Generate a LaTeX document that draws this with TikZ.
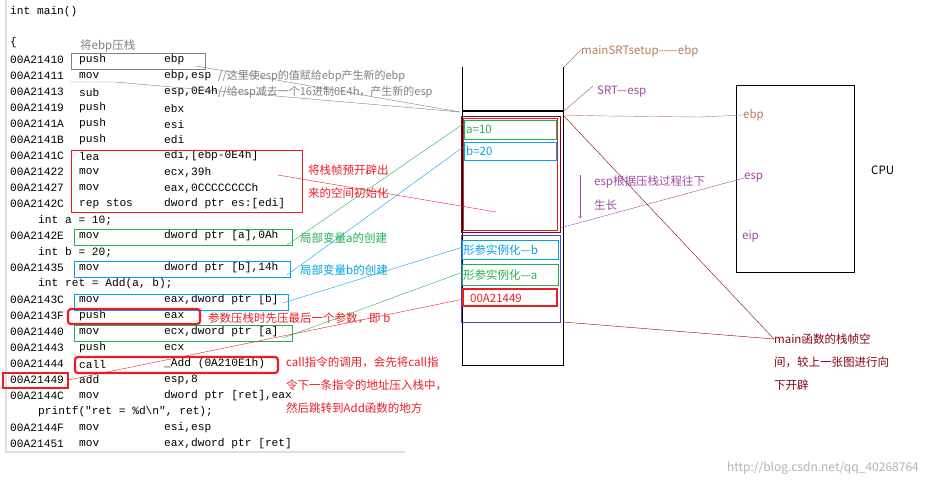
\documentclass[tikz,border=0pt]{standalone}
\usepackage{fontspec}
\setmainfont{Noto Sans CJK SC}
\newfontfamily\codefont{Liberation Mono}
\definecolor{cred}{RGB}{237,28,36}
\definecolor{cgreen}{RGB}{34,177,76}
\definecolor{cblue}{RGB}{0,162,232}
\definecolor{cind}{RGB}{63,72,204}
\definecolor{cbrown}{RGB}{185,122,87}
\definecolor{cpurp}{RGB}{163,73,164}
\definecolor{cdred}{RGB}{136,0,21}
\definecolor{cgray}{RGB}{127,127,127}
\begin{document}
\begin{tikzpicture}[x=1pt,y=-1pt,
 code/.style={anchor=west,inner sep=0pt,font=\codefont\fontsize{11.2}{12}\selectfont},
 lab/.style={anchor=west,inner sep=0pt,font=\fontsize{11.5}{13}\selectfont},
 rb/.style={draw=cred,line width=2.2pt,rounded corners=3pt}]
\useasboundingbox (0,0) rectangle (931,488);
\draw[gray!25,line width=2pt] (6,0) -- (6,452) -- (405,452);
% code
\node[code] (l0) at (10,12) {int main()};
\node[code] at (10,43) {\{};
\foreach \y/\a/\m/\o [count=\i] in {
 60/00A21410/push/ebp, 76/00A21411/mov/{ebp,esp}, 92/00A21413/sub/{esp,0E4h},
 108/00A21419/push/ebx, 124/00A2141A/push/esi, 140/00A2141B/push/edi,
 156/00A2141C/lea/{edi,[ebp-0E4h]}, 172/00A21422/mov/{ecx,39h}, 188/00A21427/mov/{eax,0CCCCCCCCh},
 204/00A2142C/rep stos/{dword ptr es:[edi]}, 236/00A2142E/mov/{dword ptr [a],0Ah},
 268/00A21435/mov/{dword ptr [b],14h}, 300/00A2143C/mov/{eax,dword ptr [b]},
 316/00A2143F/push/eax, 332/00A21440/mov/{ecx,dword ptr [a]}, 348/00A21443/push/ecx,
 364/00A21444/call/{\_Add (0A210E1h)}, 380/00A21449/add/{esp,8},
 396/00A2144C/mov/{dword ptr [ret],eax}, 428/00A2144F/mov/{esi,esp},
 444/00A21451/mov/{eax,dword ptr [ret]}}{
 \node[code] (a\i) at (10,\y) {\a};
 \node[code] at (79,\y) {\m};
 \node[code] at (164,\y) {\o};
}
\node[code] at (38,220) {int a = 10;};
\node[code] at (38,252) {int b = 20;};
\node[code] at (38,284) {int ret = Add(a, b);};
\node[code] at (38,412) {printf("ret = \%d\textbackslash n", ret);};
\node[lab,text=cgray,font=\fontsize{11}{13}\selectfont] at (218,76) {//这里使esp的值赋给ebp产生新的ebp};
\node[lab,text=cgray,font=\fontsize{11}{13}\selectfont] at (218,92) {//给esp减去一个16进制0E4h，产生新的esp};
\node[lab,text=cgray] at (80,46) {将ebp压栈};
% code boxes
\draw[cgray] (71,53) rectangle (205,69);
\draw[cred] (71,150) rectangle (302,212);
\draw[cgreen] (74,229) rectangle (292,245);
\draw[cblue] (74,261) rectangle (290,277);
\draw[cblue] (74,294) rectangle (288,310);
\draw[rb] (68,309) rectangle (200,324);
\draw[cgreen] (74,325) rectangle (292,341);
\draw[rb] (75,357) rectangle (278,373);
\draw[cred,line width=2.2pt] (3,373) rectangle (68,388);
\node[lab,text=cred] at (308,170) {将栈帧预开辟出};
\node[lab,text=cred] at (308,193) {来的空间初始化};
\node[lab,text=cgreen] at (300,238) {局部变量a的创建};
\node[lab,text=cblue] at (300,270) {局部变量b的创建};
\node[lab,text=cred] at (208,318) {参数压栈时先压最后一个参数，即 b};
\node[lab,text=cred] at (286,362) {call指令的调用，会先将call指};
\node[lab,text=cred] at (286,385) {令下一条指令的地址压入栈中，};
\node[lab,text=cred] at (286,408) {然后跳转到Add函数的地方};
% stack
\draw[black,line width=0.9pt] (462,67) -- (462,365) -- (563,365) -- (563,67);
\draw[black,line width=2pt] (462,111) -- (563,111);
\draw[cdred] (461,116) rectangle (560,232);
\draw[cred] (463,118) rectangle (557,230);
\draw[cgreen] (464,120) rectangle (556,139);
\node[lab,text=cgreen] (sa) at (466,129) {a=10};
\draw[cblue] (464,142) rectangle (556,160);
\node[lab,text=cblue] (sb) at (466,151) {b=20};
\draw[cind] (461,235) rectangle (560,322);
\draw[cblue] (462,240) rectangle (558,259);
\node[lab,text=cblue] (pb) at (463,250) {形参实例化—b};
\draw[cgreen] (462,264) rectangle (558,285);
\node[lab,text=cgreen] (pa) at (463,275) {形参实例化—a};
\draw[cred,line width=2.2pt] (463,289) rectangle (557,306);
\node[lab,text=cred] (pr) at (470,298) {00A21449};
% connectors from code
\draw[cgray] (196,66) -- (460,112);
\draw[cgray] (70,82) -- (115,82) -- (460,112);
\draw[cred] (278,175) -- (496,212);
\draw[cgreen] (287,245) -- (466,122);
\draw[cblue] (287,275) -- (466,145);
\draw[cblue] (283,303) -- (463,247);
\draw[cgreen] (283,338) -- (463,272);
\draw[cred] (68,380) -- (464,299);
% right labels
\node[lab,text=cbrown] (msr) at (581,51) {mainSRTsetup——ebp};
\draw[cbrown] (564,67) -- (581,50);
\node[lab,text=cpurp] (srt) at (597,92) {SRT—esp};
\draw[cpurp] (564,111) -- (593,86);
\draw[cpurp,->] (580,175) -- (580,218);
\node[lab,text=cpurp] at (594,182) {esp根据压栈过程往下};
\node[lab,text=cpurp] at (594,205) {生长};
% CPU
\draw[black] (736,85) rectangle (854,272);
\node[lab,text=cbrown] (cebp) at (743,115) {ebp};
\node[lab,text=cpurp] (cesp) at (744,178) {esp};
\node[lab,text=cpurp] (ceip) at (742,236) {eip};
\node[lab,text=black] (cpu) at (871,170) {CPU};
\draw[cbrown] (563,115) -- (607,116) -- (700,117) -- (cebp.west);
\draw[cpurp] (560,228) -- (cesp.west);
\node[lab,text=cdred] (mf) at (774,339) {main函数的栈帧空};
\node[lab,text=cdred] at (774,362) {间，较上一张图进行向};
\node[lab,text=cdred] at (774,385) {下开辟};
\draw[cdred] (563,115) -- (mf.west);
\draw[cdred] (563,322) -- (mf.west);
\node[anchor=east,inner sep=0pt,text=gray!60,font=\fontsize{12}{14}\selectfont] (wm) at (919,468) {http://blog.csdn.net/qq\_40268764};
\end{tikzpicture}
\end{document}
